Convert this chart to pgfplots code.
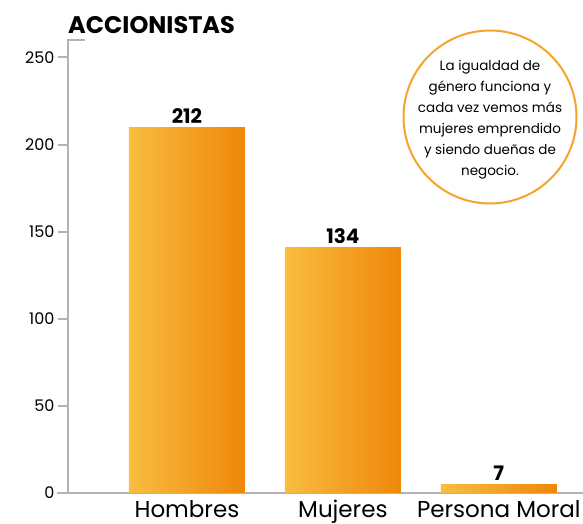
\documentclass[border=0pt]{standalone}
\usepackage{pgfplots}
\pgfplotsset{compat=1.18}
\usepackage{pgfplotstable}
\usepackage{fontspec}
\setmainfont{Poppins}

\definecolor{barleft}{HTML}{F9BD40}
\definecolor{barright}{HTML}{EE870A}
\definecolor{axisgray}{HTML}{B3B3B3}
\definecolor{ring}{HTML}{F4A52A}

% bar heights as drawn, labels as printed
\pgfplotstableread{
x y lab
0 210 212
1 141 134
2 5 7
}\accionistas

\pgfplotsset{
    orangebar/.style={draw=none, left color=barleft, right color=barright,
        nodes near coords, point meta=explicit,
        nodes near coords style={font=\bfseries\fontsize{20}{22}\selectfont, text=black}},
}

\begin{document}
\begin{tikzpicture}
\begin{axis}[
    scale only axis,
    width=515pt, height=453pt,
    xmin=-0.763, xmax=2.54,
    ymin=0, ymax=260,
    axis x line=bottom, axis y line=left,
    axis line style={-, axisgray, line width=2pt},
    ytick={0,50,...,250},
    tick align=outside,
    major tick length=10pt,
    y tick style={axisgray, line width=2pt},
    xtick={0,1,2},
    xticklabels={Hombres,Mujeres,Persona Moral},
    x tick style={draw=none},
    x tick label style={font=\fontsize{23}{25}\selectfont, anchor=base, yshift=-14pt},
    y tick label style={font=\fontsize{16}{18}\selectfont},
    /pgf/number format/assume math mode=true,
    ybar, bar width=116pt, bar shift=0pt,
    clip=false,
]
    % one plot per bar so that each bar gets its own gradient
    \addplot[orangebar] table[x=x, y=y, meta=lab, restrict x to domain=-0.5:0.5]{\accionistas};
    \addplot[orangebar] table[x=x, y=y, meta=lab, restrict x to domain=0.5:1.5]{\accionistas};
    \addplot[orangebar] table[x=x, y=y, meta=lab, restrict x to domain=1.5:2.5]{\accionistas};

    \node[anchor=base west, inner sep=0pt, font=\bfseries\fontsize{24}{26}\selectfont]
        at (rel axis cs:0,1) [yshift=6pt] {ACCIONISTAS};
\end{axis}

% cap on top of the y line, overhang of the x line
\draw[axisgray, line width=2pt] (-1pt,453pt) -- (17pt,453pt);
\draw[axisgray, line width=2pt] (0pt,0pt) -- (-11pt,0pt);

% callout
\draw[ring, line width=2pt, fill=white] (422pt,376pt) circle (86.5pt);
\node[align=center, font=\fontsize{13.5}{21}\selectfont] at (422pt,373pt)
    {La igualdad de\\género funciona y\\cada vez vemos más\\mujeres emprendido\\y siendo dueñas de\\negocio.};

\pgfresetboundingbox
\path (-68pt,-31pt) rectangle (515pt,493pt);
\end{tikzpicture}
\end{document}
